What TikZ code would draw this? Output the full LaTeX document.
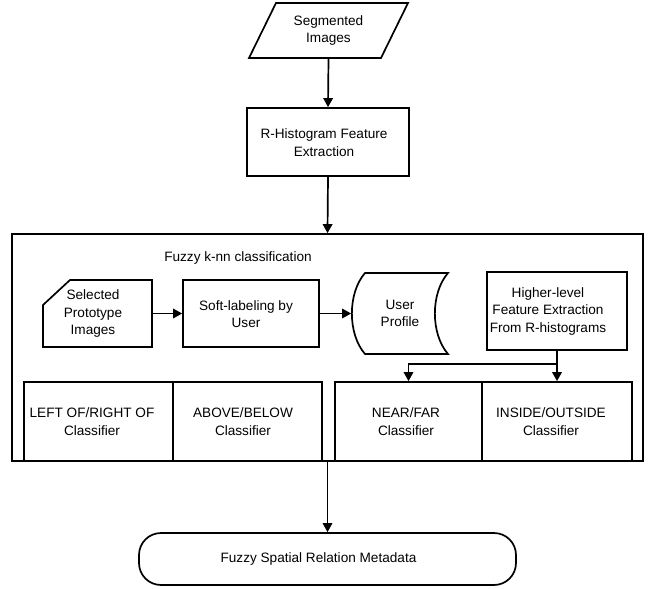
\documentclass[tikz,border=0pt]{standalone}
\usepackage{fontspec}
\setmainfont{Liberation Sans}
\usetikzlibrary{arrows.meta}
\begin{document}
\begin{tikzpicture}[x=1pt,y=-1pt,
  line width=1.7pt,
  box/.style={draw, rectangle, inner sep=0pt},
  ghost/.style={inner sep=0pt},
  txt/.style={align=center, font=\fontsize{13.6}{17.5}\selectfont, inner sep=0pt},
  arr/.style={-{Triangle[length=9pt,width=9.5pt]}},
]
\useasboundingbox (0,0) rectangle (654,589);

% top input
\node[ghost, txt, minimum width=159, minimum height=55] (seg) at (328.5,30.5) {Segmented\\Images};
\draw (276,3) -- (408,3) -- (381,58) -- (249,58) -- cycle;

\node[box, minimum width=162, minimum height=68] (rh) at (328,142) {};
\node[txt] (rht) at (324,142.5) {R-Histogram Feature\\Extraction};

% big container
\node[box, minimum width=631, minimum height=227] (big) at (327.5,347.5) {};
\node[txt] (title) at (238,258) {Fuzzy k-nn classification};

% card
\node[ghost, minimum width=109, minimum height=67] (sel) at (97.5,313.5) {};
\draw (70,280) -- (152,280) -- (152,347) -- (43,347) -- (43,305) -- cycle;
\node[txt] (selt) at (93,313.5) {Selected\\Prototype\\Images};

\node[box, minimum width=136, minimum height=67] (soft) at (251,313.5) {};
\node[txt] (softt) at (246,314) {Soft-labeling by\\User};

% stored data
\node[ghost, txt, minimum width=96, minimum height=81] (up) at (400,313.5) {User\\Profile};
\draw (365,273) -- (448,273) .. controls (430.5,293) and (430.5,334) .. (448,354) -- (365,354) .. controls (347.5,334) and (347.5,293) .. (365,273) -- cycle;

\node[box, minimum width=140, minimum height=78] (hl) at (557,311) {};
\node[txt] (hlt) at (548,311) {Higher-level\\Feature Extraction\\From R-histograms};

% classifiers
\node[box, minimum width=149, minimum height=79] (c1) at (98.5,421.5) {};
\node[box, minimum width=149, minimum height=79] (c2) at (247.5,421.5) {};
\node[box, minimum width=147, minimum height=79] (c3) at (408.5,421.5) {};
\node[box, minimum width=150, minimum height=79] (c4) at (557,421.5) {};
\node[txt] (c1t) at (92,421.5) {LEFT OF/RIGHT OF\\Classifier};
\node[txt] (c2t) at (243,421.5) {ABOVE/BELOW\\Classifier};
\node[txt] (c3t) at (406,421.5) {NEAR/FAR\\Classifier};
\node[txt] (c4t) at (551,421.5) {INSIDE/OUTSIDE\\Classifier};

% terminal
\node[box, rounded corners=22pt, minimum width=377, minimum height=52] (term) at (327.5,559) {};
\node[txt] (termt) at (318.5,559) {Fuzzy Spatial Relation Metadata};

% connectors
\draw[arr] (seg.south) -- (rh.north);
\draw[arr] (rh.south) -- (big.north);
\draw[arr] (sel.east) -- (soft.west);
\draw[arr] (soft.east) -- (up.west);
\draw[arr] (hl.south) -- (c4.north);
\coordinate (br) at (557,364);
\draw[arr] (br) -| (c3.north);
\draw[arr] (big.south) -- (term.north);
\end{tikzpicture}
\end{document}
